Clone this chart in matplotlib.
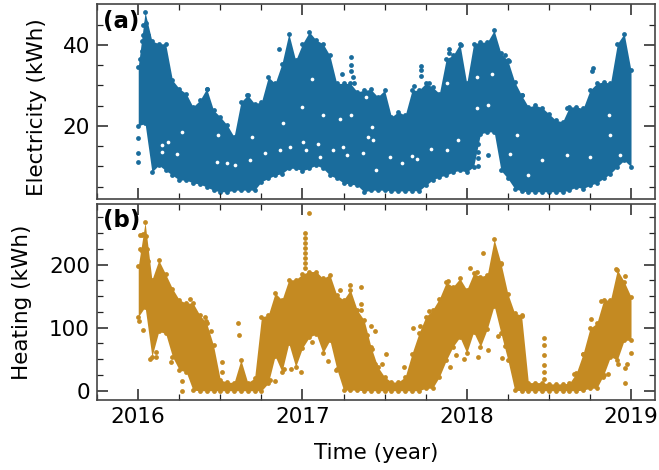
import matplotlib
import numpy as np

matplotlib.use("Agg")
import matplotlib.pyplot as plt

# half-month sampling of the point cloud, 2016.0 to 2019.0
half_months = np.arange(73)

elec_high = [34.6, 48.1, 41.0, 40.3, 40.3, 31.3, 29.2, 28.0, 24.7, 26.3, 29.2, 23.9,
             22.2, 20.2, 17.3, 25.9, 27.6, 25.5, 25.9, 32.1, 30.5, 35.4, 42.8, 36.2,
             40.3, 43.2, 41.2, 40.3, 37.4, 30.5, 30.5, 30.5, 28.4, 28.8, 29.0, 27.2,
             28.8, 22.2, 23.5, 22.6, 28.8, 28.8, 30.5, 29.6, 28.0, 36.6, 37.4, 40.3,
             30.5, 40.3, 40.7, 40.7, 43.6, 37.9, 36.2, 30.9, 27.6, 24.7, 25.1, 24.5,
             23.0, 21.4, 21.0, 24.7, 24.7, 24.3, 28.8, 30.5, 30.9, 30.5, 40.3, 42.8, 33.7]
elec_low = [20.0, 20.6, 8.6, 10.3, 9.0, 7.8, 6.6, 6.6, 5.9, 5.6, 4.9, 4.1,
            3.7, 3.7, 4.1, 4.1, 4.1, 4.1, 6.2, 7.0, 7.8, 8.2, 9.5, 9.5,
            8.9, 9.5, 10.3, 9.5, 7.8, 7.0, 5.9, 5.6, 5.3, 3.7, 4.1, 4.1,
            4.1, 3.9, 3.9, 3.9, 4.0, 3.9, 5.3, 6.6, 7.4, 7.8, 8.6, 9.0,
            8.6, 9.9, 18.0, 18.5, 18.5, 9.0, 7.0, 4.5, 3.9, 3.7, 3.7, 3.7,
            3.7, 3.7, 3.7, 4.1, 4.9, 4.5, 5.3, 5.9, 7.0, 8.2, 9.9, 11.5, 9.9]
elec_extra_x = [2017.294, 2017.294, 2017.294, 2016.858, 2017.243, 2017.31, 2017.316, 2016.0,
                2016.0, 2016.0, 2016.416, 2016.66, 2017.72, 2017.72, 2017.72, 2017.89,
                2017.89, 2017.963, 2018.233, 2018.26, 2018.335, 2018.77, 2018.765, 2018.61,
                2018.13, 2018.07, 2018.07, 2018.07, 2018.07, 2017.68, 2017.77,
                2016.03, 2016.03, 2016.02, 2016.02, 2016.01, 2016.05, 2016.06, 2016.06]
elec_extra_y = [36.9, 35.0, 33.6, 39.1, 32.9, 32.0, 30.7, 17.0,
                13.2, 11.1, 29.0, 27.6, 34.8, 33.9, 32.4, 39.1,
                37.9, 39.9, 37.4, 36.0, 27.7, 34.2, 33.6, 24.5,
                12.8, 15.6, 13.5, 12.0, 10.0, 29.8, 30.6,
                45.0, 42.5, 41.0, 38.5, 36.5, 45.5, 42.5, 39.5]
# small empty pockets inside the electricity cloud
elec_gap_x = [2016.142, 2016.233, 2016.142, 2016.183, 2016.264, 2016.487, 2016.538, 2016.588,
              2016.68, 2016.477, 2017.004, 2017.024, 2017.095, 2017.105, 2016.923, 2016.862,
              2016.771, 2016.69, 2017.227, 2017.298, 2017.389, 2017.4, 2017.369, 2017.268,
              2017.187, 2017.247, 2017.45, 2017.126, 2017.055, 2016.994, 2016.882,
              2017.781, 2017.882, 2017.949, 2017.665, 2017.604, 2017.533, 2017.696, 2018.061,
              2017.878, 2018.132, 2018.065, 2018.304, 2018.264, 2018.375, 2018.456, 2018.609,
              2018.75, 2018.933, 2018.868, 2018.872, 2018.152, 2017.432, 2017.422]
elec_gap_y = [15.2, 13.0, 13.6, 16.0, 18.5, 17.7, 10.7, 10.3,
              11.5, 11.0, 16.0, 14.0, 15.6, 12.3, 14.8, 14.0,
              13.2, 17.3, 21.6, 22.6, 27.2, 17.3, 13.3, 12.8,
              14.0, 14.8, 9.0, 22.6, 31.7, 24.7, 20.6,
              14.4, 14.0, 16.5, 12.6, 10.7, 12.3, 11.9, 32.1,
              30.5, 25.1, 24.3, 17.7, 13.0, 7.8, 11.5, 12.8,
              12.3, 12.8, 22.6, 17.7, 32.9, 16.5, 19.8]

heat_high = [197, 267, 176, 207, 185, 162, 144, 139, 139, 120, 107, 72,
             17, 14, 13, 49, 13, 20, 117, 120, 155, 144, 176, 176,
             185, 189, 189, 178, 184, 152, 144, 160, 128, 112, 70, 38,
             22, 14, 14, 22, 59, 91, 117, 128, 146, 172, 165, 178,
             160, 186, 181, 184, 240, 202, 154, 123, 120, 13, 13, 13,
             11, 11, 11, 12, 28, 59, 99, 107, 144, 144, 192, 173, 149]
heat_low = [117, 133, 54, 94, 91, 54, 33, 30, 1, 0, 0, 0,
            0, 0, 0, 0, 0, 0, 0, 12, 55, 30, 75, 38,
            68, 85, 90, 60, 80, 35, 1, 1, 1, 0, 0, 0,
            0, 0, 0, 0, 0, 0, 4, 4, 22, 48, 70, 85,
            60, 93, 70, 98, 135, 91, 49, 1, 0, 0, 0, 0,
            0, 0, 0, 0, 0, 1, 4, 4, 25, 54, 49, 80, 80]
heat_extra_x = [2017.014, 2017.014, 2017.014, 2017.014, 2017.014, 2017.014, 2017.014, 2017.014, 2017.04,
                2016.314, 2016.264, 2016.264, 2016.61, 2016.615, 2016.51, 2016.51, 2016.406, 2016.41,
                2016.446, 2016.436, 2016.44, 2017.355, 2017.355, 2017.355, 2017.416, 2017.44, 2017.39,
                2017.426, 2017.44, 2017.227, 2017.288, 2016.026, 2016.004, 2016.071, 2016.11, 2016.108,
                2016.2, 2016.933, 2016.99, 2016.89, 2016.80, 2016.83, 2017.156, 2017.207, 2017.059,
                2018.02, 2017.888, 2018.06, 2018.10, 2018.207, 2017.769, 2017.675, 2017.716, 2017.62,
                2017.51, 2017.485, 2017.895, 2017.935, 2017.986, 2018.067, 2018.128, 2018.193, 2018.213,
                2018.23, 2018.335, 2018.47, 2018.47, 2018.47, 2018.47, 2018.47, 2018.47, 2018.65,
                2018.755, 2018.815, 2018.907, 2018.963, 2018.923, 2018.978, 2018.963, 2018.963, 2018.998,
                2018.86, 2018.83, 2018.71,
                2016.01, 2016.01, 2016.02, 2016.02, 2016.03, 2016.03, 2016.05, 2016.055, 2016.06]
heat_extra_y = [250, 242, 234, 226, 218, 210, 202, 194, 281,
                145, 16, -1, 108, 89, 45, 29, 117, 110,
                95, 71, 59, 164, 137, 128, 103, 95, 88,
                66, 43, 159, 168, 96, 110, 51, 62, 54,
                46, 35, 30, 35, 17, 15, 47, 33, 78,
                195, 174, 189, 219, 201, 127, 100, 102, 38,
                58, 43, 38, 57, 51, 54, 65, 87, 52,
                71, 119, 84, 72, 57, 41, 30, 18, 26,
                113, 142, 193, 182, 43, 43, 36, 13, 60,
                27, 22, 59,
                247, 225, 247, 222, 248, 222, 245, 225, 205]

ELEC_COLOR = "#1a6c9c"
HEAT_COLOR = "#c48a22"
MARKER_SIZE = 12


def draw_cloud(ax, low, high, extra_x, extra_y, color):
    t = 2016 + half_months / 24
    ax.fill_between(t, low, high, color=color, linewidth=0)
    ax.scatter(t, low, s=MARKER_SIZE, color=color, linewidths=0)
    ax.scatter(t, high, s=MARKER_SIZE, color=color, linewidths=0)
    ax.scatter(extra_x, extra_y, s=MARKER_SIZE, color=color, linewidths=0)


def style_axis(ax):
    ax.set_xlim(2015.749, 2019.146)
    ax.set_xticks([2016, 2017, 2018, 2019])
    ax.set_xticks(np.arange(2015.75, 2019.2, 0.25), minor=True)
    ax.tick_params(which="both", direction="in", top=True, right=True, color="#222222")
    ax.tick_params(which="major", length=8, width=1.1, labelsize=15.5, pad=5)
    ax.tick_params(which="minor", length=4, width=0.9)
    for spine in ax.spines.values():
        spine.set_linewidth(1.2)
        spine.set_color("#444444")


fig = plt.figure(figsize=(6.59, 4.70), dpi=100)
ax_a = fig.add_axes([97 / 659, 1 - 199.5 / 470, 558 / 659, 195 / 470])
ax_b = fig.add_axes([97 / 659, 1 - 400 / 470, 558 / 659, 196 / 470])

draw_cloud(ax_a, elec_low, elec_high, elec_extra_x, elec_extra_y, ELEC_COLOR)
ax_a.scatter(elec_gap_x, elec_gap_y, s=7, color="white", linewidths=0)
draw_cloud(ax_b, heat_low, heat_high, heat_extra_x, heat_extra_y, HEAT_COLOR)

style_axis(ax_a)
ax_a.set_ylim(1.8, 50)
ax_a.set_yticks([20, 40])
ax_a.set_yticks(np.arange(5, 50, 5), minor=True)
ax_a.tick_params(axis="x", labelbottom=False)
ax_a.text(0.01, 0.915, "(a)", transform=ax_a.transAxes, fontsize=16.5, fontweight="bold", va="center")

style_axis(ax_b)
ax_b.set_ylim(-14.6, 296)
ax_b.set_yticks([0, 100, 200])
ax_b.set_yticks(np.arange(0, 290, 25), minor=True)
ax_b.text(0.01, 0.915, "(b)", transform=ax_b.transAxes, fontsize=16.5, fontweight="bold", va="center")

ax_a.set_ylabel("Electricity (kWh)", fontsize=15.5)
ax_b.set_ylabel("Heating (kWh)", fontsize=15.5)
ax_b.set_xlabel("Time (year)", fontsize=15.5)
ax_a.yaxis.set_label_coords(-0.09, 0.475)
ax_b.yaxis.set_label_coords(-0.117, 0.5)
ax_b.xaxis.set_label_coords(0.5, -0.22)

fig.savefig("out.png", dpi=100)
